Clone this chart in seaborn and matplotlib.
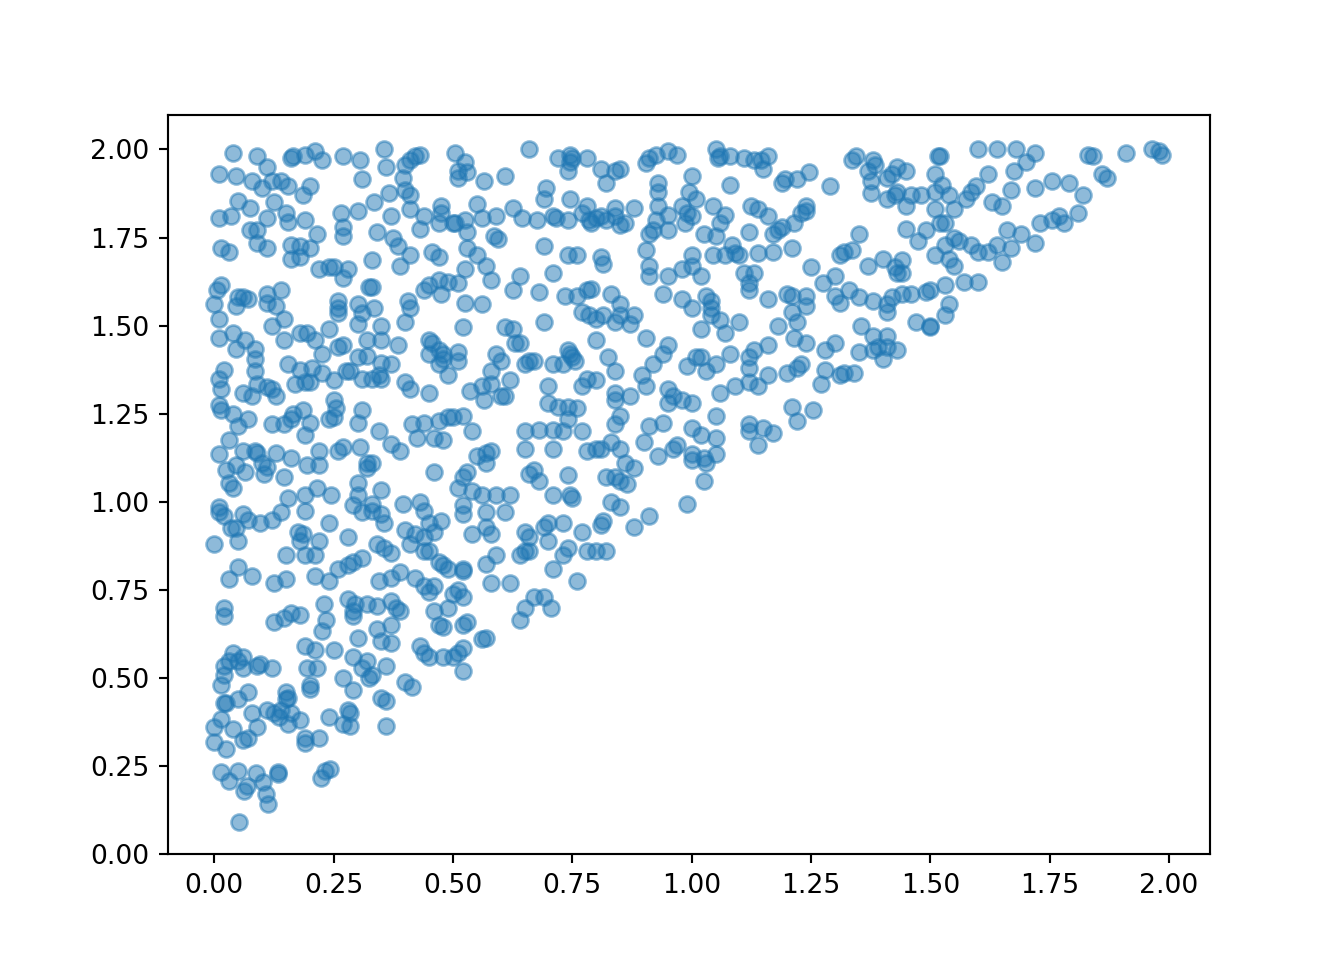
import matplotlib
matplotlib.use("Agg")
import matplotlib.pyplot as plt
import seaborn as sns
import pandas as pd

band_190_200 = [(0.04,1.99),(0.09,1.98),(0.11,1.95),(0.16,1.975),(0.165,1.98),(0.19,1.985),(0.21,1.995),(0.225,1.97),(0.27,1.98),(0.305,1.97),(0.355,2.0),(0.36,1.95),(0.40,1.955),(0.41,1.97),(0.42,1.98),(0.43,1.985),(0.505,1.99),(0.51,1.94),(0.51,1.92),(0.525,1.965),(0.53,1.935),(0.565,1.91),(0.61,1.925),(0.66,2.0),(0.72,1.975),(0.74,1.94),(0.745,1.965),(0.745,1.985),(0.75,1.975),(0.78,1.975),(0.81,1.945),(0.82,1.905),(0.84,1.94),(0.85,1.945),(0.905,1.96),(0.91,1.975),(0.925,1.985),(0.93,1.905),(0.95,1.995),(0.97,1.985),(1.0,1.925),(1.05,2.0),(1.055,1.975),(1.06,1.98),(1.08,1.98),(1.08,1.9),(1.11,1.975),(1.13,1.97),(1.145,1.97),(1.16,1.98),(1.15,1.945),(1.19,1.905),(1.195,1.915),(1.22,1.915),(1.245,1.935),(1.29,1.895),(1.335,1.97),(1.345,1.98),(1.37,1.94),(1.38,1.97),(1.385,1.955),(1.41,1.92),(1.42,1.93),(1.43,1.95),(1.45,1.94),(1.51,1.93),(1.515,1.98),(1.52,1.98),(1.525,1.9),(1.6,2.0),(1.62,1.93),(1.64,2.0),(1.68,2.0),(1.675,1.94),(1.7,1.965),(1.72,1.99),(1.755,1.91),(1.79,1.905),(1.83,1.985),(1.84,1.98),(1.86,1.93),(1.87,1.92),(1.91,1.99),(1.965,2.0),(1.98,1.995),(1.985,1.985),(0.01,1.93),(0.045,1.925),(0.08,1.91),(0.10,1.89),(0.12,1.91),(0.14,1.91),(0.155,1.895),(0.2,1.895),(0.31,1.915),(0.395,1.92)]
band_170_190 = [(0.01,1.805),(0.035,1.81),(0.05,1.855),(0.075,1.835),(0.11,1.805),(0.125,1.85),(0.15,1.82),(0.155,1.795),(0.185,1.87),(0.19,1.8),(0.215,1.76),(0.2,1.72),(0.075,1.77),(0.09,1.77),(0.09,1.735),(0.11,1.72),(0.015,1.72),(0.03,1.71),(0.16,1.73),(0.16,1.69),(0.18,1.695),(0.18,1.725),(0.265,1.82),(0.27,1.78),(0.27,1.755),(0.3,1.825),(0.335,1.85),(0.365,1.875),(0.37,1.81),(0.34,1.765),(0.375,1.75),(0.385,1.725),(0.41,1.7),(0.39,1.67),(0.4,1.885),(0.41,1.87),(0.41,1.83),(0.43,1.775),(0.44,1.81),(0.455,1.71),(0.47,1.695),(0.47,1.79),(0.475,1.82),(0.475,1.84),(0.5,1.79),(0.505,1.79),(0.525,1.8),(0.53,1.765),(0.53,1.72),(0.55,1.7),(0.55,1.845),(0.56,1.805),(0.59,1.81),(0.585,1.755),(0.595,1.745),(0.625,1.835),(0.645,1.805),(0.675,1.8),(0.69,1.725),(0.69,1.86),(0.695,1.89),(0.71,1.81),(0.715,1.805),(0.74,1.8),(0.745,1.86),(0.74,1.7),(0.76,1.7),(0.77,1.82),(0.78,1.84),(0.785,1.8),(0.79,1.79),(0.8,1.805),(0.81,1.81),(0.82,1.8),(0.84,1.835),(0.84,1.81),(0.85,1.785),(0.86,1.79),(0.88,1.835),(0.905,1.715),(0.91,1.76),(0.92,1.77),(0.925,1.8),(0.93,1.84),(0.93,1.88),(0.95,1.815),(0.95,1.77),(0.98,1.84),(0.99,1.82),(1.0,1.81),(0.985,1.79),(0.995,1.88),(1.01,1.86),(1.045,1.84),(1.025,1.76),(1.05,1.755),(1.06,1.79),(1.07,1.815),(1.045,1.7),(1.0,1.7),(1.07,1.7),(1.085,1.73),(1.09,1.705),(1.1,1.7),(1.12,1.765),(1.125,1.84),(1.14,1.83),(1.16,1.81),(1.17,1.76),(1.18,1.77),(1.19,1.78),(1.14,1.705),(1.17,1.71),(1.21,1.72),(1.215,1.79),(1.23,1.82),(1.24,1.84),(1.24,1.825),(1.35,1.76),(1.32,1.71),(1.31,1.7),(1.335,1.715),(1.375,1.91),(1.375,1.875),(1.425,1.87),(1.43,1.88),(1.41,1.86),(1.45,1.84),(1.46,1.87),(1.48,1.87),(1.51,1.88),(1.51,1.83),(1.52,1.79),(1.53,1.79),(1.54,1.87),(1.55,1.83),(1.585,1.88),(1.575,1.86),(1.595,1.895),(1.63,1.85),(1.65,1.84),(1.67,1.885),(1.66,1.77),(1.69,1.76),(1.72,1.89),(1.73,1.79),(1.755,1.8),(1.77,1.81),(1.78,1.79),(1.81,1.82),(1.82,1.87),(1.45,1.775),(1.49,1.77),(1.475,1.74),(1.55,1.75),(1.56,1.74),(1.585,1.73),(1.6,1.71),(1.62,1.71),(1.64,1.73),(1.65,1.68),(1.67,1.72),(1.72,1.735),(1.53,1.73),(1.54,1.69),(1.51,1.7)]
band_150_170 = [(0.005,1.6),(0.015,1.615),(0.01,1.52),(0.0,1.56),(0.05,1.58),(0.045,1.555),(0.07,1.575),(0.06,1.58),(0.11,1.59),(0.11,1.565),(0.13,1.555),(0.14,1.6),(0.145,1.52),(0.12,1.5),(0.22,1.66),(0.24,1.665),(0.25,1.665),(0.195,1.48),(0.18,1.48),(0.21,1.46),(0.28,1.66),(0.27,1.635),(0.26,1.55),(0.26,1.57),(0.3,1.56),(0.26,1.535),(0.31,1.535),(0.33,1.61),(0.33,1.685),(0.335,1.55),(0.325,1.61),(0.35,1.5),(0.405,1.57),(0.41,1.55),(0.4,1.51),(0.44,1.6),(0.45,1.615),(0.47,1.63),(0.475,1.59),(0.49,1.625),(0.51,1.62),(0.525,1.66),(0.525,1.565),(0.56,1.56),(0.57,1.67),(0.58,1.63),(0.52,1.495),(0.625,1.6),(0.64,1.64),(0.68,1.595),(0.71,1.65),(0.735,1.585),(0.61,1.495),(0.625,1.49),(0.69,1.51),(0.76,1.585),(0.78,1.6),(0.79,1.605),(0.77,1.54),(0.785,1.53),(0.8,1.52),(0.83,1.59),(0.815,1.53),(0.85,1.56),(0.85,1.53),(0.84,1.51),(0.88,1.53),(0.87,1.505),(0.81,1.695),(0.815,1.675),(0.91,1.64),(0.91,1.67),(0.94,1.59),(0.95,1.64),(0.98,1.575),(0.98,1.66),(1.0,1.55),(1.0,1.67),(1.02,1.64),(1.03,1.585),(1.04,1.57),(1.04,1.55),(1.04,1.53),(1.02,1.49),(1.06,1.515),(1.07,1.48),(1.1,1.51),(1.11,1.65),(1.12,1.62),(1.12,1.6),(1.13,1.65),(1.16,1.575),(1.2,1.59),(1.21,1.585),(1.21,1.54),(1.24,1.585),(1.24,1.555),(1.25,1.665),(1.275,1.62),(1.3,1.64),(1.3,1.585),(1.31,1.565),(1.33,1.6),(1.35,1.58),(1.37,1.67),(1.38,1.57),(1.4,1.69),(1.41,1.56),(1.41,1.54),(1.425,1.665),(1.43,1.65),(1.44,1.65),(1.44,1.685),(1.44,1.59),(1.42,1.58),(1.46,1.59),(1.47,1.51),(1.49,1.595),(1.5,1.5),(1.5,1.495),(1.5,1.6),(1.53,1.53),(1.54,1.56),(1.53,1.615),(1.55,1.67),(1.57,1.625),(1.6,1.625),(1.22,1.51),(1.18,1.5),(1.355,1.5)]
band_130_150 = [(0.01,1.465),(0.04,1.48),(0.045,1.435),(0.065,1.46),(0.085,1.435),(0.085,1.405),(0.085,1.37),(0.02,1.375),(0.01,1.35),(0.015,1.32),(0.06,1.31),(0.09,1.335),(0.11,1.325),(0.12,1.32),(0.13,1.3),(0.145,1.46),(0.155,1.39),(0.18,1.375),(0.17,1.335),(0.19,1.34),(0.205,1.38),(0.2,1.34),(0.225,1.365),(0.225,1.42),(0.24,1.49),(0.25,1.345),(0.26,1.44),(0.27,1.445),(0.285,1.37),(0.275,1.37),(0.3,1.41),(0.31,1.35),(0.3,1.505),(0.32,1.46),(0.33,1.35),(0.345,1.36),(0.35,1.35),(0.35,1.395),(0.35,1.46),(0.37,1.39),(0.32,1.415),(0.385,1.445),(0.4,1.34),(0.41,1.32),(0.45,1.31),(0.45,1.42),(0.45,1.46),(0.455,1.45),(0.47,1.43),(0.48,1.405),(0.47,1.39),(0.48,1.42),(0.49,1.36),(0.51,1.4),(0.51,1.425),(0.535,1.315),(0.56,1.33),(0.565,1.29),(0.58,1.335),(0.58,1.37),(0.59,1.42),(0.6,1.4),(0.6,1.3),(0.61,1.3),(0.62,1.345),(0.63,1.45),(0.64,1.45),(0.66,1.4),(0.65,1.39),(0.67,1.4),(0.7,1.33),(0.71,1.39),(0.73,1.39),(0.74,1.43),(0.745,1.42),(0.75,1.41),(0.755,1.4),(0.77,1.33),(0.78,1.35),(0.8,1.345),(0.8,1.46),(0.825,1.41),(0.84,1.37),(0.84,1.31),(0.84,1.29),(0.87,1.3),(0.895,1.36),(0.905,1.33),(0.905,1.465),(0.92,1.39),(0.94,1.42),(0.95,1.445),(0.95,1.32),(0.96,1.3),(0.99,1.385),(1.01,1.41),(1.02,1.41),(1.03,1.37),(1.06,1.31),(1.05,1.39),(1.08,1.42),(1.09,1.33),(1.12,1.41),(1.12,1.38),(1.13,1.43),(1.12,1.34),(1.14,1.33),(1.16,1.445),(1.16,1.36),(1.2,1.365),(1.215,1.465),(1.22,1.38),(1.23,1.39),(1.24,1.45),(1.27,1.335),(1.28,1.375),(1.28,1.43),(1.3,1.45),(1.31,1.36),(1.32,1.365),(1.34,1.365),(1.35,1.425),(1.38,1.47),(1.39,1.44),(1.41,1.47),(1.41,1.44),(1.38,1.43),(1.4,1.405),(1.43,1.43)]
band_110_130 = [(0.01,1.275),(0.015,1.26),(0.04,1.25),(0.05,1.215),(0.07,1.235),(0.08,1.3),(0.03,1.175),(0.01,1.135),(0.025,1.09),(0.03,1.055),(0.04,1.04),(0.045,1.105),(0.06,1.145),(0.065,1.085),(0.085,1.145),(0.09,1.14),(0.105,1.08),(0.11,1.1),(0.12,1.22),(0.145,1.22),(0.16,1.235),(0.165,1.25),(0.185,1.26),(0.2,1.225),(0.13,1.14),(0.145,1.07),(0.16,1.125),(0.19,1.19),(0.195,1.105),(0.22,1.105),(0.22,1.145),(0.24,1.235),(0.25,1.24),(0.25,1.29),(0.255,1.265),(0.26,1.145),(0.27,1.155),(0.3,1.225),(0.31,1.26),(0.305,1.155),(0.32,1.095),(0.33,1.11),(0.32,1.11),(0.345,1.2),(0.37,1.165),(0.39,1.145),(0.415,1.22),(0.425,1.18),(0.44,1.225),(0.46,1.18),(0.47,1.23),(0.48,1.175),(0.49,1.24),(0.5,1.24),(0.52,1.245),(0.54,1.2),(0.57,1.14),(0.58,1.145),(0.57,1.11),(0.65,1.2),(0.65,1.15),(0.68,1.205),(0.7,1.28),(0.71,1.205),(0.72,1.27),(0.73,1.2),(0.74,1.27),(0.74,1.235),(0.76,1.265),(0.71,1.15),(0.74,1.075),(0.77,1.2),(0.78,1.145),(0.8,1.15),(0.81,1.15),(0.83,1.17),(0.85,1.15),(0.84,1.22),(0.85,1.245),(0.86,1.11),(0.88,1.095),(0.9,1.17),(0.91,1.215),(0.93,1.13),(0.94,1.225),(0.95,1.28),(0.96,1.15),(0.97,1.16),(0.98,1.29),(1.0,1.28),(1.0,1.21),(1.0,1.135),(1.0,1.12),(1.02,1.19),(1.025,1.125),(1.03,1.11),(1.05,1.18),(1.05,1.245),(1.05,1.135),(1.12,1.22),(1.12,1.2),(1.15,1.21),(1.14,1.16),(1.17,1.195),(1.22,1.23),(1.21,1.27),(1.255,1.26),(0.46,1.085),(0.53,1.085),(0.55,1.13)]
band_090_110 = [(0.01,0.985),(0.01,0.97),(0.02,0.96),(0.035,0.925),(0.045,0.925),(0.06,0.965),(0.07,0.95),(0.095,0.94),(0.12,0.95),(0.1,1.11),(0.14,0.97),(0.155,1.01),(0.175,0.915),(0.185,0.91),(0.19,1.02),(0.19,0.975),(0.215,1.04),(0.245,1.02),(0.24,0.94),(0.28,0.9),(0.29,0.99),(0.31,0.97),(0.33,0.995),(0.33,0.975),(0.35,1.035),(0.35,0.965),(0.355,0.94),(0.395,0.995),(0.4,0.92),(0.42,0.91),(0.43,1.0),(0.44,0.975),(0.45,0.94),(0.475,0.945),(0.46,0.915),(0.52,0.99),(0.52,0.965),(0.54,0.91),(0.54,1.03),(0.56,1.02),(0.57,0.97),(0.59,1.02),(0.61,0.97),(0.57,0.93),(0.58,0.91),(0.62,1.02),(0.66,1.08),(0.67,1.09),(0.68,1.06),(0.71,1.02),(0.745,1.02),(0.75,1.01),(0.7,0.94),(0.69,0.93),(0.73,0.94),(0.82,1.07),(0.83,1.0),(0.84,1.07),(0.85,1.06),(0.865,1.05),(0.85,0.985),(0.81,0.935),(0.815,0.945),(0.91,0.96),(0.88,0.93),(0.99,0.995),(1.025,1.06),(0.3,1.055),(0.3,1.02),(0.51,1.04),(0.52,1.07)]
band_070_090 = [(0.0,0.88),(0.05,0.89),(0.05,0.815),(0.03,0.78),(0.08,0.79),(0.125,0.77),(0.15,0.78),(0.15,0.85),(0.18,0.89),(0.19,0.85),(0.21,0.79),(0.21,0.85),(0.22,0.89),(0.24,0.775),(0.26,0.81),(0.28,0.82),(0.29,0.83),(0.31,0.84),(0.28,0.725),(0.295,0.71),(0.32,0.71),(0.34,0.705),(0.345,0.775),(0.34,0.88),(0.355,0.87),(0.37,0.855),(0.37,0.785),(0.39,0.8),(0.38,0.7),(0.41,0.88),(0.42,0.785),(0.44,0.9),(0.44,0.86),(0.45,0.86),(0.47,0.83),(0.48,0.82),(0.49,0.81),(0.44,0.76),(0.45,0.745),(0.46,0.76),(0.49,0.7),(0.5,0.74),(0.51,0.75),(0.52,0.73),(0.52,0.805),(0.52,0.81),(0.59,0.85),(0.57,0.825),(0.58,0.77),(0.62,0.77),(0.64,0.85),(0.65,0.915),(0.65,0.86),(0.66,0.86),(0.66,0.9),(0.7,0.89),(0.71,0.81),(0.73,0.85),(0.74,0.87),(0.76,0.775),(0.77,0.915),(0.78,0.86),(0.8,0.86),(0.82,0.86),(0.65,0.7),(0.67,0.73),(0.69,0.73),(0.705,0.7),(0.64,0.665)]
band_050_070 = [(0.02,0.7),(0.02,0.675),(0.125,0.66),(0.145,0.67),(0.16,0.685),(0.18,0.68),(0.23,0.71),(0.235,0.665),(0.225,0.635),(0.19,0.59),(0.21,0.58),(0.195,0.53),(0.215,0.53),(0.25,0.58),(0.29,0.56),(0.3,0.615),(0.29,0.675),(0.29,0.69),(0.31,0.53),(0.32,0.55),(0.325,0.5),(0.33,0.51),(0.34,0.64),(0.35,0.605),(0.36,0.535),(0.37,0.6),(0.37,0.65),(0.37,0.72),(0.39,0.69),(0.43,0.59),(0.44,0.57),(0.45,0.56),(0.47,0.65),(0.46,0.69),(0.48,0.56),(0.48,0.645),(0.5,0.56),(0.51,0.57),(0.52,0.585),(0.52,0.65),(0.53,0.66),(0.52,0.52),(0.56,0.61),(0.57,0.615),(0.02,0.535),(0.03,0.55),(0.04,0.57),(0.05,0.55),(0.06,0.56),(0.06,0.53),(0.09,0.535),(0.095,0.54),(0.12,0.53),(0.02,0.51),(0.27,0.5),(0.29,0.465)]
band_000_050 = [(0.015,0.48),(0.02,0.43),(0.025,0.43),(0.05,0.44),(0.07,0.46),(0.015,0.385),(0.0,0.36),(0.0,0.32),(0.025,0.3),(0.04,0.355),(0.06,0.325),(0.07,0.33),(0.08,0.4),(0.09,0.36),(0.11,0.41),(0.125,0.4),(0.135,0.39),(0.14,0.41),(0.15,0.46),(0.15,0.44),(0.155,0.445),(0.155,0.37),(0.16,0.4),(0.18,0.38),(0.19,0.33),(0.19,0.315),(0.2,0.48),(0.2,0.47),(0.22,0.33),(0.24,0.39),(0.27,0.37),(0.28,0.41),(0.285,0.4),(0.285,0.365),(0.35,0.445),(0.36,0.435),(0.36,0.365),(0.4,0.49),(0.415,0.475),(0.013,0.235),(0.03,0.209),(0.049,0.237),(0.063,0.181),(0.068,0.193),(0.087,0.231),(0.103,0.204),(0.108,0.17),(0.113,0.142),(0.133,0.234),(0.133,0.227),(0.223,0.218),(0.232,0.237),(0.242,0.241),(0.052,0.092)]

bands = [band_190_200, band_170_190, band_150_170, band_130_150, band_110_130,
         band_090_110, band_070_090, band_050_070, band_000_050]
points = pd.DataFrame([p for band in bands for p in band], columns=["x", "y"])

sns.set_style("ticks", {"axes.spines.top": True, "axes.spines.right": True})
plt.rcParams["font.family"] = "DejaVu Sans"
fig, ax = plt.subplots(figsize=(7, 5), dpi=192)
sns.scatterplot(data=points, x="x", y="y", s=36, alpha=0.5, color="#1f77b4",
                edgecolor="#1f77b4", linewidth=1.0, ax=ax)
ax.set_xlabel("")
ax.set_ylabel("")
ax.set_xlim(-0.097, 2.085)
ax.set_ylim(0, 2.097)
ax.set_xticks([0, .25, .5, .75, 1, 1.25, 1.5, 1.75, 2])
ax.set_xticklabels(["0.00", "0.25", "0.50", "0.75", "1.00", "1.25", "1.50", "1.75", "2.00"])
ax.set_yticks([0, .25, .5, .75, 1, 1.25, 1.5, 1.75, 2])
ax.set_yticklabels(["0.00", "0.25", "0.50", "0.75", "1.00", "1.25", "1.50", "1.75", "2.00"])
ax.tick_params(direction="out", length=3.5, width=0.8, colors="black", labelsize=10)
for s in ax.spines.values():
    s.set_color("black")
    s.set_linewidth(0.8)
fig.savefig("out.png", dpi=192)
